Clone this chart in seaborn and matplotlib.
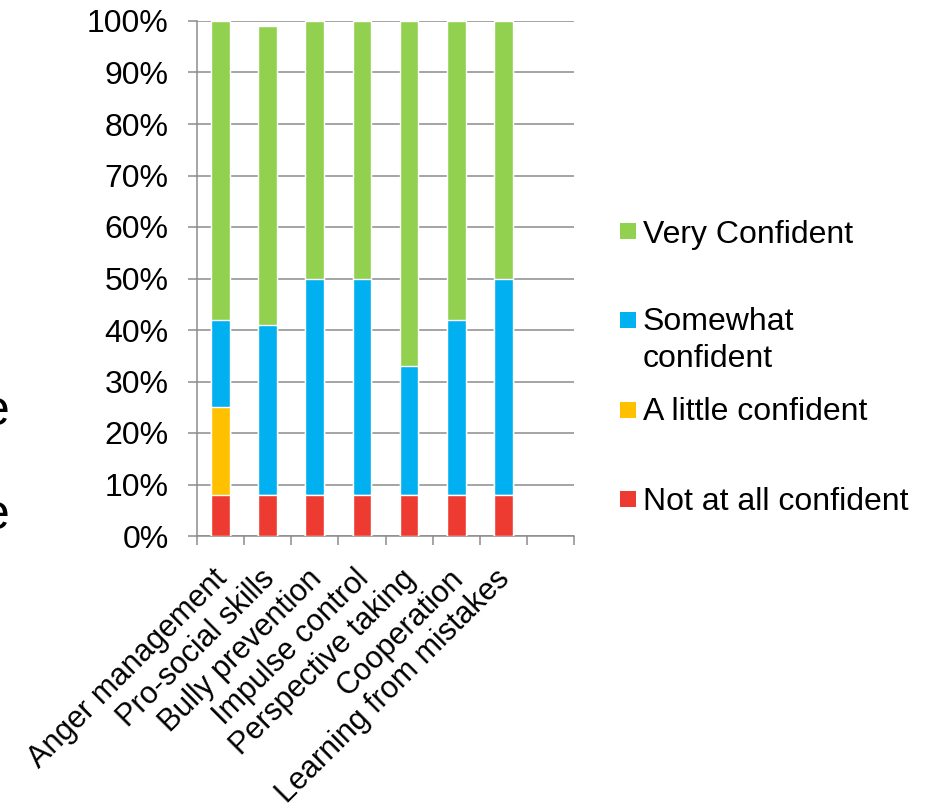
import numpy as np
import pandas as pd
import matplotlib
matplotlib.use("Agg")
import matplotlib.pyplot as plt
import matplotlib.transforms as mtransforms
import seaborn as sns
from matplotlib.patches import Rectangle

# Survey data: share of respondents (%) per confidence level
categories = ["Anger management", "Pro-social skills", "Bully prevention",
              "Impulse control", "Perspective taking", "Cooperation",
              "Learning from mistakes"]
not_at_all = [8, 8, 8, 8, 8, 8, 8]
a_little = [17, 0, 0, 0, 0, 0, 0]
somewhat = [17, 33, 42, 42, 25, 34, 42]
very = [58, 58, 50, 50, 67, 58, 50]

series_names = ["Not at all confident", "A little confident",
                "Somewhat confident", "Very Confident"]
series_colors = ["#EE3B32", "#FFC000", "#00B0F0", "#92D050"]
y_ticks = list(range(0, 101, 10))

sns.set_theme(style="white")
plt.rcParams["font.family"] = ["Liberation Sans", "DejaVu Sans"]
FS = 23
FS_CAT = 22
GRAY = "#8C8C8C"

W, H = 926, 810
fig = plt.figure(figsize=(W / 100, H / 100), dpi=100)
ax = fig.add_axes([197 / W, 1 - 536 / H, (574 - 197) / W, (536 - 21) / H])

df = pd.DataFrame({"category": categories,
                   series_names[0]: not_at_all,
                   series_names[1]: a_little,
                   series_names[2]: somewhat,
                   series_names[3]: very})
cum = df[series_names].cumsum(axis=1)

# stacked bars: draw cumulative totals from the top layer down
for name, col in reversed(list(zip(series_names, series_colors))):
    sns.barplot(x=df["category"], y=cum[name], color=col, width=0.4,
                saturation=1, ax=ax, zorder=3)

ax.set_xlim(-0.5, 7.5)
ax.set_ylim(0, 100)
ax.set_yticks(y_ticks)
ax.set_yticklabels([f"{v}%" for v in y_ticks])
ax.set_xlabel("")
ax.set_ylabel("")

ax.set_axisbelow(True)
ax.yaxis.grid(True, color=GRAY, linewidth=1.1)
ax.xaxis.grid(False)
for s in ["top", "right"]:
    ax.spines[s].set_visible(False)
for s in ["left", "bottom"]:
    ax.spines[s].set_color(GRAY)
    ax.spines[s].set_linewidth(1.1)

ax.tick_params(axis="y", which="major", left=True, length=6.5, width=1.1,
               color=GRAY, direction="out", pad=14, labelsize=FS,
               labelcolor="black")
ax.set_xticks(range(len(categories)))
ax.set_xticklabels(categories, rotation=45, ha="right", va="top",
                   fontsize=FS_CAT, color="black")
ax.tick_params(axis="x", which="major", bottom=True, length=0, pad=20)
ax.set_xticks(np.arange(-0.5, 8, 1), minor=True)
ax.tick_params(axis="x", which="minor", bottom=True, length=6.5, width=1.1,
               color=GRAY, direction="out")

# nudge the slanted category labels to the right
shift = mtransforms.ScaledTranslation(13 / 100, 0, fig.dpi_scale_trans)
for lab in ax.get_xticklabels():
    lab.set_transform(lab.get_transform() + shift)

# legend, top entry first
def fy(py):
    return 1 - py / H

legend_rows = [("Very Confident", series_colors[3], 231, [243]),
               ("Somewhat confident", series_colors[2], 320, [330, 367]),
               ("A little confident", series_colors[1], 410, [420]),
               ("Not at all confident", series_colors[0], 499, [510])]
for label, col, cy, baselines in legend_rows:
    fig.add_artist(Rectangle((620 / W, fy(cy + 8)), 16 / W, 16 / H,
                             transform=fig.transFigure, color=col, lw=0))
    lines = ["Somewhat", "confident"] if len(baselines) == 2 else [label]
    for txt, by in zip(lines, baselines):
        fig.text(643 / W, fy(by), txt, ha="left", va="baseline",
                 fontsize=FS, color="black")

# trailing letters at the left margin
fig.text(10 / W, fy(425), "e", ha="right", va="baseline", fontsize=36,
         color="black")
fig.text(10 / W, fy(529), "e", ha="right", va="baseline", fontsize=36,
         color="black")

fig.savefig("out.png", dpi=100, facecolor="white")
